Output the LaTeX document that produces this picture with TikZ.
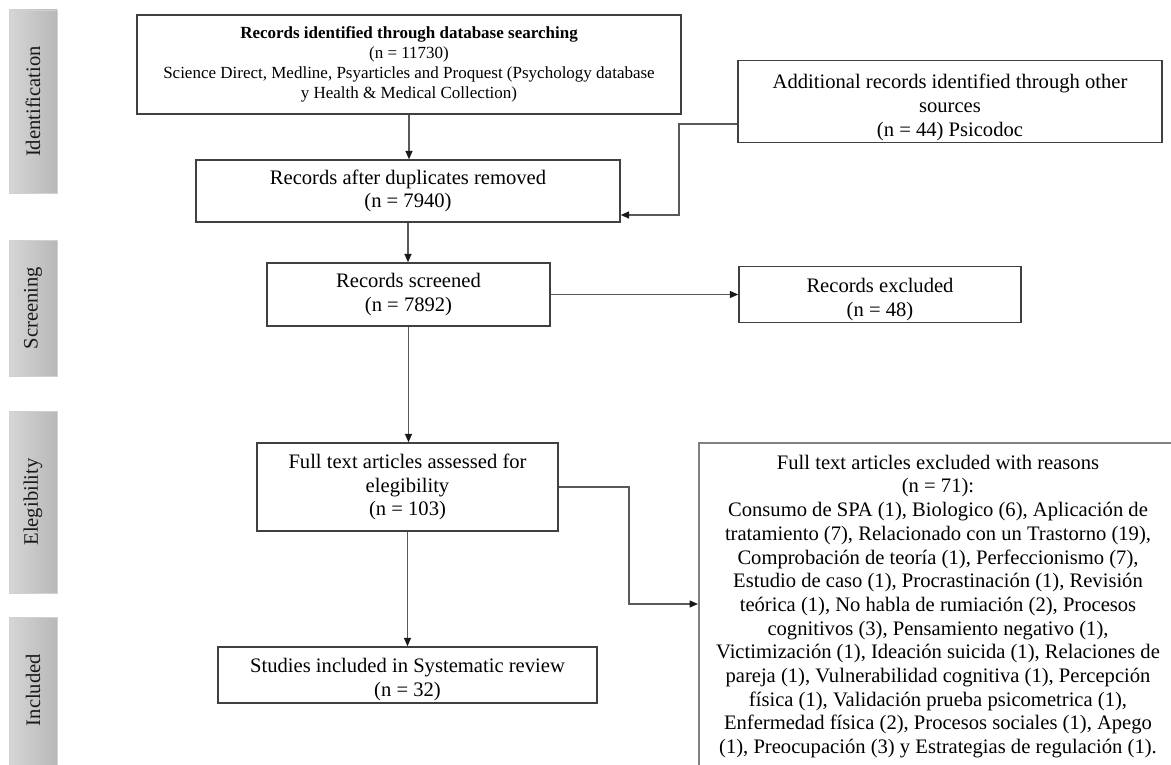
\documentclass[tikz,border=0pt]{standalone}
\usepackage{fontspec}
\setmainfont{Liberation Serif}
\usetikzlibrary{arrows.meta,shadings}
\tikzset{
  box/.style={draw=black!75, line width=1.4pt, fill=white, align=center, inner sep=2pt,
    font=\fontsize{20.6}{23.7}\selectfont, text=black},
  smallbox/.style={box, font=\fontsize{17}{20.2}\selectfont},
  widebox/.style={box, draw=black!50, line width=2pt},
  sidelab/.style={draw=black!18, line width=0.8pt, left color=black!16, right color=black!28,
    minimum width=48pt, inner sep=0pt},
  labtext/.style={rotate=90, text=black!90, font=\fontsize{20.6}{23.7}\selectfont},
  conn/.style={draw=black!65, line width=1.4pt},
  arr/.style={conn, -{Triangle[length=8.5pt,width=7pt,color=black!90]}},
}
\newcommand{\lift}[1]{\rule{0pt}{#1}}
\begin{document}
\begin{tikzpicture}[x=1pt,y=-1pt]
\useasboundingbox (0,0) rectangle (1171,765);
\begin{scope}
\clip (0,0) rectangle (1171,765);
% side labels
\node[sidelab, minimum height=183pt] (lab1) at (33,101.5) {};
\node[labtext] (lab1t) at (lab1.center) {Identification};
\node[sidelab, minimum height=136pt] (lab2) at (33,308) {};
\node[labtext] (lab2t) at (lab2.center) {Screening};
\node[sidelab, minimum height=182pt] (lab3) at (33,502) {};
\node[labtext] (lab3t) at (lab3.center) {Elegibility};
\node[sidelab, minimum height=153pt] (lab4) at (33,693.5) {};
\node[labtext] (lab4t) at (33,690) {Included};

% boxes
\node[smallbox, minimum width=544pt, minimum height=99pt] (box1) at (409,64.5)
  {\textbf{Records identified through database searching}\\(n = 11730)\\
   Science Direct, Medline, Psyarticles and Proquest (Psychology database\\
   y Health \& Medical Collection)};
\node[box, minimum width=424pt, minimum height=62pt] (box2) at (408,191)
  {Records after duplicates removed\\(n = 7940)};
\node[box, minimum width=424pt, minimum height=77pt] (box3) at (950,101.5)
  {\lift{26pt}Additional records identified through other\\sources\\(n = 44) Psicodoc};
\node[box, minimum width=283pt, minimum height=63pt] (box4) at (408.5,294.5)
  {Records screened\\(n = 7892)};
\node[box, minimum width=282pt, minimum height=55pt] (box5) at (880,294.5)
  {\lift{24pt}Records excluded\\(n = 48)};
\node[box, minimum width=301pt, minimum height=88pt] (box6) at (407.5,487)
  {Full text articles assessed for\\elegibility\\(n = 103)};
\node[widebox, minimum width=478pt, minimum height=327pt] (box7) at (938,606.5)
  {Full text articles excluded with reasons\\(n = 71):\\
   Consumo de SPA (1), Biologico (6), Aplicación de\\
   tratamiento (7), Relacionado con un Trastorno (19),\\
   Comprobación de teoría (1), Perfeccionismo (7),\\
   Estudio de caso (1), Procrastinación (1), Revisión\\
   teórica (1), No habla de rumiación (2), Procesos\\
   cognitivos (3), Pensamiento negativo (1),\\
   Victimización (1), Ideación suicida (1), Relaciones de\\
   pareja (1), Vulnerabilidad cognitiva (1), Percepción\\
   física (1), Validación prueba psicometrica (1),\\
   Enfermedad física (2), Procesos sociales (1), Apego\\
   (1), Preocupación (3) y Estrategias de regulación (1).};
\node[box, minimum width=379pt, minimum height=56pt] (box8) at (407.5,675)
  {\lift{23.5pt}Studies included in Systematic review\\(n = 32)};

% connectors
\coordinate (c3) at (679,215);
\coordinate (c6) at (629,604);
\draw[arr] (box1.south) -- (box1.south |- box2.north);
\draw[arr] ([yshift=-22.5pt]box3.west) -| (c3) -- (box2.east |- c3);
\draw[arr] (box2.south) -- (box2.south |- box4.north);
\draw[arr] (box4.east) -- (box5.west);
\draw[arr] (box4.south) -- (box4.south |- box6.north);
\draw[arr] (box6.east) -| (c6) -- (box7.west |- c6);
\draw[arr] (box6.south) -- (box6.south |- box8.north);
\end{scope}
\end{tikzpicture}
\end{document}
